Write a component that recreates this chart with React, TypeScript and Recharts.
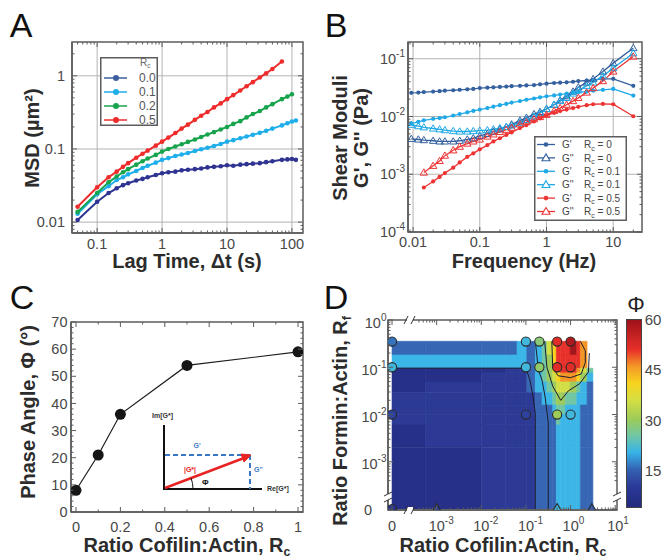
import React from 'react';
import {
  LineChart, Line, XAxis, YAxis, ReferenceLine, ReferenceArea, ScatterChart, Scatter,
} from 'recharts';

const FONT = '"Liberation Sans", Arial, Helvetica, sans-serif';
const INK = '#2c2c2c';
const TICK_INK = '#474747';
const FRAME = '#5c5c5c';
const GRID = '#b3b3b3';

// ---- A: MSD vs lag time
const lagTimes = [0.05, 0.1, 0.15, 0.2, 0.25, 0.3, 0.4, 0.5, 0.6, 0.8, 1, 1.25, 1.6, 2, 2.5, 3.2, 4, 5, 6.3, 8, 10, 12.5, 16, 20, 25, 32, 40, 50, 70, 85, 100, 115];
const msdRc00 = [0.0107, 0.019, 0.025, 0.029, 0.032, 0.034, 0.037, 0.039, 0.041, 0.044, 0.0465, 0.048, 0.049, 0.051, 0.052, 0.053, 0.054, 0.056, 0.057, 0.058, 0.06, 0.059, 0.061, 0.062, 0.063, 0.064, 0.066, 0.068, 0.071, 0.072, 0.073, 0.071];
const msdRc01 = [0.013, 0.024, 0.031, 0.0376, 0.041, 0.045, 0.05, 0.055, 0.059, 0.065, 0.071, 0.075, 0.08, 0.084, 0.088, 0.094, 0.099, 0.104, 0.11, 0.117, 0.126, 0.132, 0.14, 0.148, 0.156, 0.166, 0.177, 0.19, 0.21, 0.225, 0.237, 0.245];
const msdRc02 = [0.0138, 0.025, 0.035, 0.042, 0.048, 0.053, 0.061, 0.068, 0.074, 0.083, 0.092, 0.1, 0.108, 0.116, 0.125, 0.135, 0.146, 0.158, 0.17, 0.185, 0.2, 0.22, 0.24, 0.27, 0.3, 0.33, 0.37, 0.41, 0.48, 0.52, 0.56, null];
const msdRc05 = [0.0162, 0.03, 0.041, 0.049, 0.057, 0.064, 0.076, 0.086, 0.095, 0.111, 0.126, 0.143, 0.165, 0.19, 0.215, 0.25, 0.285, 0.32, 0.37, 0.42, 0.48, 0.545, 0.63, 0.72, 0.82, 0.95, 1.08, 1.24, 1.57, null, null, null];
const msdKeys = ['rc00', 'rc01', 'rc02', 'rc05'];
const msdLabels = ['0.0', '0.1', '0.2', '0.5'];
const msdColors = ['#2f3391', '#1eaeea', '#17a44c', '#ef2c2c'];
const msdLegendColors = ['#3b5f9d', '#1eaeea', '#17a44c', '#ef2c2c'];
const msdXMajors = [0.1, 1, 10, 100];
const msdYMajors = [0.01, 0.1, 1];

// ---- B: shear moduli vs frequency
const freqHz = [0.0094, 0.012, 0.0145, 0.02, 0.025, 0.03, 0.04, 0.05, 0.065, 0.08, 0.1, 0.13, 0.16, 0.2, 0.25, 0.3, 0.4, 0.5, 0.65, 0.8, 1, 1.3, 1.6, 2, 2.5, 3, 4, 5, 7, 10, 20];
const gpRc0 = [0.0257, 0.026, 0.0265, 0.027, 0.0275, 0.028, 0.0285, 0.029, 0.0295, 0.03, 0.031, 0.0315, 0.032, 0.0325, 0.033, 0.0335, 0.034, 0.0345, 0.035, 0.036, 0.037, 0.038, 0.0385, 0.039, 0.04, 0.041, 0.042, 0.043, 0.045, 0.045, 0.034];
const gppRc0 = [0.0041, 0.004, 0.0039, 0.0038, 0.0037, 0.0037, 0.0037, 0.0038, 0.004, 0.0042, 0.0046, 0.005, 0.0055, 0.006, 0.0066, 0.0073, 0.0085, 0.0095, 0.011, 0.012, 0.0135, 0.016, 0.019, 0.0224, 0.027, 0.032, 0.039, 0.0446, 0.06, 0.084, 0.153];
const gpRc01 = [0.0075, 0.0081, 0.0086, 0.0091, 0.0094, 0.0097, 0.0104, 0.011, 0.0118, 0.0125, 0.0132, 0.014, 0.0148, 0.0157, 0.0165, 0.0174, 0.0185, 0.0195, 0.0205, 0.0215, 0.0224, 0.0232, 0.024, 0.0248, 0.0256, 0.0263, 0.027, 0.028, 0.029, 0.03, 0.023];
const gppRc01 = [0.0072, 0.0068, 0.0065, 0.0062, 0.006, 0.0058, 0.0056, 0.0055, 0.0055, 0.0056, 0.0057, 0.0058, 0.006, 0.0063, 0.0066, 0.007, 0.0078, 0.0087, 0.01, 0.0115, 0.0135, 0.016, 0.0185, 0.021, 0.025, 0.0284, 0.034, 0.039, 0.05, 0.069, 0.125];
const gpRc05 = [null, null, 0.00059, 0.00075, 0.0009, 0.00105, 0.0013, 0.0016, 0.002, 0.0023, 0.0027, 0.0032, 0.0037, 0.0042, 0.0048, 0.0053, 0.0063, 0.0071, 0.0082, 0.0093, 0.0105, 0.0115, 0.0124, 0.0132, 0.014, 0.0147, 0.0157, 0.0163, 0.0165, 0.0163, 0.0101];
const gppRc05 = [null, null, 0.00107, 0.0014, 0.0017, 0.0021, 0.0026, 0.003, 0.0034, 0.0037, 0.004, 0.0045, 0.0049, 0.0054, 0.0059, 0.0064, 0.0073, 0.008, 0.009, 0.0098, 0.0107, 0.0125, 0.014, 0.016, 0.0185, 0.021, 0.026, 0.031, 0.041, 0.06, 0.109];
const modKeys = ['gp0', 'gpp0', 'gp1', 'gpp1', 'gp5', 'gpp5'];
const modColors = ['#34609e', '#34609e', '#1fa9e6', '#1fa9e6', '#ee3333', '#ee3333'];
const modNames = ["G'", "G''", "G'", "G''", "G'", "G''"];
const modRc = ['0', '0', '0.1', '0.1', '0.5', '0.5'];
const freqMajors = [0.01, 0.1, 1, 10];
const modYMajors = [0.0001, 0.001, 0.01, 0.1];

// ---- C: phase angle vs cofilin ratio
const cofilinRatio = [0, 0.1, 0.2, 0.5, 1];
const phaseAngle = [8, 21, 36, 54, 59];
const phaseXMajors = [0, 0.2, 0.4, 0.6, 0.8, 1];
const phaseYMajors = [0, 10, 20, 30, 40, 50, 60, 70];

// ---- D: phase map over cofilin / formin ratios (broken log axes, 0 at left/bottom)
const circleRc = [0, 0.1, 0.2, 0.5, 1, 0, 0.1, 0.2, 0.5, 1, 0, 0.1, 0.5, 1, 0];
const circleRf = [0.35, 0.35, 0.35, 0.35, 0.35, 0.1, 0.1, 0.1, 0.1, 0.1, 0.01, 0.01, 0.01, 0.01, 0];
const circlePhi = [16, 21, 28, 52, 58, 21, 21, 29, 52, 52, 11, 11, 30, 21, 7];
const triangleRc = [0.001, 0.5, 3];
const triangleRf = [0, 0, 0];
const trianglePhi = [10, 21, 14];
// contour bands, in broken-log axis units; rows listed top to bottom
const mapColEdges = [0, 0.75, 2.0, 2.55, 2.8, 3.02, 3.21, 3.36, 3.47, 3.6, 3.68, 3.77, 3.88, 3.99, 4.14, 4.22, 4.37, 4.5];
const mapRowEdges = [0, 1.31, 1.78, 2.0, 2.2, 2.46, 2.69, 2.88, 2.98, 3.26, 3.55];
const mapBands = [
  [15, 15, 15, 15, 20, 15, 20, 25, 35, 40, 50, 50, 50, 55, 50, 45, null],
  [20, 20, 20, 20, 20, 15, 20, 25, 30, 40, 50, 50, 50, 50, 50, 45, null],
  [5, 5, 5, 10, 10, 15, 20, 25, 30, 40, 45, 50, 50, 50, 45, 35, 25],
  [5, 5, 10, 10, 10, 15, 20, 25, 30, 35, 40, 45, 45, 45, 40, 30, 20],
  [5, 10, 10, 10, 10, 15, 20, 20, 25, 30, 35, 35, 35, 30, 25, 20, 15],
  [10, 10, 10, 10, 10, 10, 15, 20, 20, 25, 30, 30, 25, 25, 20, 20, 15],
  [10, 10, 10, 10, 10, 10, 15, 15, 15, 20, 25, 25, 20, 20, 20, 15, 15],
  [10, 10, 10, 10, 10, 10, 15, 15, 15, 15, 25, 20, 20, 20, 20, 15, 15],
  [5, 10, 10, 10, 10, 10, 15, 15, 15, 15, 20, 20, 20, 20, 20, 15, 15],
  [5, 5, 10, 10, 10, 10, 15, 15, 15, 15, 20, 20, 20, 20, 20, 15, 15],
];
const bandFloors = [5, 10, 15, 20, 25, 30, 35, 40, 45, 50, 55];
const bandColors = ['#273088', '#2c3a96', '#3766b4', '#3bb6e7', '#71c6a4', '#9dcb5c', '#d2de46', '#f8d31f', '#f39626', '#e8312b', '#a3161c'];
const contourOuterRc = [0, 3.0, 3.09, 3.16, 3.21, 3.21];
const contourOuterRf = [2.98, 2.98, 2.73, 2.37, 2.03, 0];
const contourInnerRc = [3.21, 3.28, 3.36, 3.43, 3.5, 3.5];
const contourInnerRf = [3.55, 2.94, 2.73, 2.37, 1.82, 0];
const contourGreenRc = [3.42, 3.47, 3.6, 3.78, 3.95, 4.2, 4.4, 4.42];
const contourGreenRf = [3.55, 3.0, 2.6, 2.3, 2.5, 2.65, 2.9, 3.3];
const contourHotRc = [3.58, 3.6, 3.72, 4.0, 4.24, 4.33, 4.33, 4.22];
const contourHotRf = [3.55, 3.0, 2.82, 2.78, 2.86, 3.1, 3.35, 3.55];
const phiStops: [number, string][] = [
  [3.6, '#232a7e'], [10, '#2a3a98'], [15, '#3463b3'], [20, '#36b3e8'], [25, '#6fc6a6'], [30, '#9ccb5a'],
  [36, '#d6df42'], [41, '#f8d31e'], [46, '#f49828'], [51, '#e8302a'], [60, '#9e1219'],
];
const phiBarTicks = [15, 30, 45, 60];

// ---------- helpers
const near = (a: number, b: number) => Math.abs(a - b) <= 1e-6 * Math.max(Math.abs(a), Math.abs(b)) + 1e-12;

function logTicks(lo: number, hi: number, from: number, to: number) {
  const out: number[] = [];
  for (let e = lo; e <= hi; e++) {
    for (let m = 1; m <= 9; m++) {
      const v = m * Math.pow(10, e);
      if (v >= from * 0.99999 && v <= to * 1.00001) out.push(v);
    }
  }
  return out;
}

function stepTicks(from: number, to: number, step: number) {
  const out: number[] = [];
  for (let v = from; v <= to + 1e-9; v += step) out.push(Math.round(v * 1000) / 1000);
  return out;
}

function brokenLogTicks(decades: number) {
  const out: number[] = [];
  for (let k = 0; k <= decades; k++) out.push(k);
  for (let k = 0; k < decades; k++) {
    for (let m = 2; m <= 9; m++) {
      if (k === 0 && m < 4) continue;
      out.push(k + Math.log10(m));
    }
  }
  return out;
}

const brokenPos = (r: number) => (r === 0 ? 0 : 4 + Math.log10(r));

function hexToRgb(h: string) {
  const n = parseInt(h.slice(1), 16);
  return [(n >> 16) & 255, (n >> 8) & 255, n & 255];
}
function phiColor(v: number) {
  if (v <= phiStops[0][0]) return phiStops[0][1];
  for (let i = 1; i < phiStops.length; i++) {
    const [v1, c1] = phiStops[i];
    const [v0, c0] = phiStops[i - 1];
    if (v <= v1) {
      const t = (v - v0) / (v1 - v0);
      const a = hexToRgb(c0);
      const b = hexToRgb(c1);
      return `rgb(${a.map((x, j) => Math.round(x + (b[j] - x) * t)).join(',')})`;
    }
  }
  return phiStops[phiStops.length - 1][1];
}
const bandColor = (b: number) => bandColors[bandFloors.indexOf(b)];

type LabelFn = (v: number, x: number, y: number) => React.ReactNode;

// inward ticks on the axis edge, mirrored on the opposite edge of the frame (span px away)
function makeTick(side: 'bottom' | 'left', majors: number[], span: number, label?: LabelFn) {
  return (props: any) => {
    const { x, y, payload } = props;
    const m = majors.find((mm) => near(mm, Number(payload?.value)));
    const major = m !== undefined;
    const len = major ? 5 : 2.5;
    return (
      <g>
        {side === 'bottom' ? (
          <>
            <line x1={x} y1={y} x2={x} y2={y - len} stroke={FRAME} strokeWidth={1} />
            <line x1={x} y1={y - span} x2={x} y2={y - span + len} stroke={FRAME} strokeWidth={1} />
          </>
        ) : (
          <>
            <line x1={x} y1={y} x2={x + len} y2={y} stroke={FRAME} strokeWidth={1} />
            <line x1={x + span} y1={y} x2={x + span - len} y2={y} stroke={FRAME} strokeWidth={1} />
          </>
        )}
        {major && label ? label(m as number, x, y) : null}
      </g>
    );
  };
}

const tickText = (x: number, y: number, anchor: 'start' | 'middle' | 'end', content: React.ReactNode) => (
  <text x={x} y={y} textAnchor={anchor} fontSize={14.5} fill={TICK_INK} fontFamily={FONT}>{content}</text>
);
const sup = (base: string, exp: string) => [
  <tspan key="b">{base}</tspan>,
  <tspan key="e" dy={-7} fontSize={10}>{exp}</tspan>,
];
const plainBottom = (gap: number): LabelFn => (v, x, y) => tickText(x, y + gap, 'middle', String(v));
const plainLeft = (gap: number): LabelFn => (v, x, y) => tickText(x - gap, y + 5.2, 'end', String(v));

const frameAxis = {
  tickLine: false,
  tickSize: 0,
  tickMargin: 0,
  interval: 0 as const,
  axisLine: { stroke: FRAME, strokeWidth: 1.5 },
  allowDataOverflow: true,
  type: 'number' as const,
};

const frameBox = (xd: [number, number], yd: [number, number]) => (
  <ReferenceArea x1={xd[0]} x2={xd[1]} y1={yd[0]} y2={yd[1]} fill="none" fillOpacity={0}
    stroke={FRAME} strokeWidth={1.5} ifOverflow="visible" />
);

const triangleDot = (color: string, s = 3.7) => (p: any) => {
  const key = `t${p.index}`;
  if (!Number.isFinite(p.cx) || !Number.isFinite(p.cy)) return <g key={key} />;
  const { cx, cy } = p;
  return (
    <path key={key} d={`M${cx},${cy - s} L${cx + s},${cy + s * 0.7} L${cx - s},${cy + s * 0.7} Z`}
      fill="none" stroke={color} strokeWidth={1} />
  );
};

// ---------- panels
const msdRows = lagTimes.map((t, i) => ({ t, rc00: msdRc00[i], rc01: msdRc01[i], rc02: msdRc02[i], rc05: msdRc05[i] }));

function PanelA() {
  const xDomain: [number, number] = [0.041, 148];
  const yDomain: [number, number] = [0.0071, 2.9];
  const xt = logTicks(-2, 2, xDomain[0], xDomain[1]);
  const yt = logTicks(-3, 0, yDomain[0], yDomain[1]);
  return (
    <LineChart width={330} height={280} data={msdRows} margin={{ top: 42, right: 27, bottom: 0, left: 0 }}>
      {msdXMajors.map((v) => <ReferenceLine key={`gx${v}`} x={v} stroke={GRID} strokeWidth={1} />)}
      {msdYMajors.map((v) => <ReferenceLine key={`gy${v}`} y={v} stroke={GRID} strokeWidth={1} />)}
      <XAxis dataKey="t" scale="log" domain={xDomain} ticks={xt} height={47} {...frameAxis}
        tick={makeTick('bottom', msdXMajors, 191, plainBottom(15.5))} />
      <YAxis scale="log" domain={yDomain} ticks={yt} width={72} {...frameAxis}
        tick={makeTick('left', msdYMajors, 231, plainLeft(7))} />
      {msdKeys.map((k, i) => (
        <Line key={k} dataKey={k} stroke={msdColors[i]} strokeWidth={2} connectNulls={false}
          dot={{ r: 2.3, fill: msdColors[i], stroke: msdColors[i], strokeWidth: 0 }} isAnimationActive={false} />
      ))}
      {frameBox(xDomain, yDomain)}
    </LineChart>
  );
}

const modRows = freqHz.map((f, i) => ({
  f, gp0: gpRc0[i], gpp0: gppRc0[i], gp1: gpRc01[i], gpp1: gppRc01[i], gp5: gpRc05[i], gpp5: gppRc05[i],
}));

function PanelB() {
  const xDomain: [number, number] = [0.0084, 27];
  const yDomain: [number, number] = [0.0001, 0.195];
  const xt = logTicks(-3, 1, xDomain[0], xDomain[1]);
  const yt = logTicks(-4, -1, yDomain[0], yDomain[1]);
  const yLabel: LabelFn = (v, x, y) => tickText(x - 3, y + 5.2, 'end', sup('10', String(Math.round(Math.log10(v)))));
  return (
    <LineChart width={334} height={280} data={modRows} margin={{ top: 42, right: 22, bottom: 0, left: 0 }}>
      {freqMajors.map((v) => <ReferenceLine key={`gx${v}`} x={v} stroke={GRID} strokeWidth={1} />)}
      {modYMajors.map((v) => <ReferenceLine key={`gy${v}`} y={v} stroke={GRID} strokeWidth={1} />)}
      <XAxis dataKey="f" scale="log" domain={xDomain} ticks={xt} height={48} {...frameAxis}
        tick={makeTick('bottom', freqMajors, 190, plainBottom(15))} />
      <YAxis scale="log" domain={yDomain} ticks={yt} width={78} {...frameAxis}
        tick={makeTick('left', modYMajors, 234, yLabel)} />
      {modKeys.map((k, i) => (
        <Line key={k} dataKey={k} stroke={modColors[i]} strokeWidth={1.3} connectNulls={false}
          dot={i % 2 === 0 ? { r: 2.1, fill: modColors[i], stroke: modColors[i], strokeWidth: 0 } : triangleDot(modColors[i])}
          isAnimationActive={false} />
      ))}
      {frameBox(xDomain, yDomain)}
    </LineChart>
  );
}

const phaseRows = cofilinRatio.map((rc, i) => ({ rc, phi: phaseAngle[i] }));

function PanelC() {
  const xDomain: [number, number] = [-0.0225, 1.0225];
  const yDomain: [number, number] = [0, 70];
  const xt = stepTicks(0, 1, 0.1);
  const yt = stepTicks(0, 70, 2);
  const xLabel: LabelFn = (v, x, y) => tickText(x, y + 19.5, 'middle', v === 0 || v === 1 ? String(v) : v.toFixed(1));
  return (
    <LineChart width={330} height={279} data={phaseRows} margin={{ top: 42, right: 27, bottom: 0, left: 0 }}>
      <XAxis dataKey="rc" domain={xDomain} ticks={xt} height={47} {...frameAxis}
        tick={makeTick('bottom', phaseXMajors, 190, xLabel)} />
      <YAxis domain={yDomain} ticks={yt} width={71} {...frameAxis}
        tick={makeTick('left', phaseYMajors, 232, plainLeft(3.5))} />
      <Line dataKey="phi" stroke="#1c1c1c" strokeWidth={1.2}
        dot={{ r: 5.5, fill: '#161616', stroke: '#161616', strokeWidth: 0 }} isAnimationActive={false} />
      {frameBox(xDomain, yDomain)}
    </LineChart>
  );
}

const mapCells = mapBands.flatMap((row, ri) => {
  const r = mapRowEdges.length - 2 - ri;
  return row.map((band, c) => (band == null ? null : {
    x1: mapColEdges[c], x2: mapColEdges[c + 1], y1: mapRowEdges[r], y2: mapRowEdges[r + 1], band,
  }));
}).filter(Boolean) as { x1: number; x2: number; y1: number; y2: number; band: number }[];

const circleRows = circleRc.map((rc, i) => ({ x: brokenPos(rc), y: brokenPos(circleRf[i]), phi: circlePhi[i] }));
const triangleRows = triangleRc.map((rc, i) => ({ x: brokenPos(rc), y: brokenPos(triangleRf[i]), phi: trianglePhi[i] }));
const contourRows = [
  contourOuterRc.map((x, i) => ({ x, y: contourOuterRf[i] })),
  contourInnerRc.map((x, i) => ({ x, y: contourInnerRf[i] })),
  contourGreenRc.map((x, i) => ({ x, y: contourGreenRf[i] })),
  contourHotRc.map((x, i) => ({ x, y: contourHotRf[i] })),
];

function PanelD() {
  const xDomain: [number, number] = [-0.09, 5.04];
  const yDomain: [number, number] = [-0.02, 4];
  const xt = brokenLogTicks(5);
  const yt = brokenLogTicks(4);
  const xMajors = [0, 1, 2, 3, 4, 5];
  const yMajors = [0, 1, 2, 3, 4];
  const xLabel: LabelFn = (v, x, y) => (v === 0
    ? tickText(x, y + 21, 'middle', '0')
    : tickText(x - 8, y + 21, 'start', sup('10', String(v - 4))));
  const yLabel: LabelFn = (v, x, y) => (v === 0
    ? tickText(x - 16, y + 5.5, 'end', '0')
    : tickText(x - 1.5, y + 7.5, 'end', sup('10', String(v - 4))));
  return (
    <ScatterChart width={334} height={279} margin={{ top: 40, right: 47, bottom: 0, left: 0 }}>
      {mapCells.map((c, i) => (
        <ReferenceArea key={`cell${i}`} x1={c.x1} x2={c.x2} y1={c.y1} y2={c.y2} fill={bandColor(c.band)} fillOpacity={1}
          stroke={bandColor(c.band)} strokeWidth={0.6} ifOverflow="visible" />
      ))}
      <XAxis dataKey="x" domain={xDomain} ticks={xt} height={49} {...frameAxis}
        tick={makeTick('bottom', xMajors, 190, xLabel)} />
      <YAxis dataKey="y" domain={yDomain} ticks={yt} width={58} {...frameAxis}
        tick={makeTick('left', yMajors, 229, yLabel)} />
      {contourRows.map((rows, i) => (
        <Scatter key={`ct${i}`} data={rows} line={{ stroke: '#1d1d2e', strokeWidth: 1 }} isAnimationActive={false}
          shape={() => <g />} />
      ))}
      <Scatter data={circleRows} isAnimationActive={false}
        shape={(p: any) => <circle cx={p.cx} cy={p.cy} r={4.6} fill={phiColor(p.payload.phi)} stroke="#2a2a2a" strokeWidth={1.1} />} />
      <Scatter data={triangleRows} isAnimationActive={false}
        shape={(p: any) => (
          <path d={`M${p.cx},${p.cy - 5.5} L${p.cx + 4.6},${p.cy + 2.5} L${p.cx - 4.6},${p.cy + 2.5} Z`}
            fill={phiColor(p.payload.phi)} stroke="#2a2a2a" strokeWidth={1.1} />
        )} />
      {frameBox(xDomain, yDomain)}
    </ScatterChart>
  );
}

// ---------- overlays
function Txt({ x, y, size = 20, bold = true, rotate = 0, color = INK, children }: any) {
  return (
    <div style={{
      position: 'absolute', left: x, top: y, transform: `translate(-50%, -50%) rotate(${rotate}deg)`,
      fontSize: size, fontWeight: bold ? 700 : 400, color, lineHeight: 1, whiteSpace: 'nowrap', fontFamily: FONT,
    }}>
      {children}
    </div>
  );
}
const Sub = ({ children }: any) => <span style={{ fontSize: '0.62em', position: 'relative', top: '0.32em' }}>{children}</span>;

function LegendA() {
  return (
    <svg style={{ position: 'absolute', left: 100, top: 57 }} width={58} height={69}>
      <rect x={0.75} y={0.75} width={56.5} height={67.5} fill="#fff" stroke={FRAME} strokeWidth={1.5} />
      <text x={40} y={9} fontSize={10} fill="#666" fontFamily={FONT}>R<tspan dy={2} fontSize={6.5}>c</tspan></text>
      {msdLabels.map((lab, i) => {
        const y = 21 + i * 14;
        const c = msdLegendColors[i];
        return (
          <g key={lab}>
            <line x1={4} x2={27} y1={y} y2={y} stroke={c} strokeWidth={1.5} />
            <circle cx={16} cy={y} r={3} fill={c} />
            <text x={39} y={y + 4.2} fontSize={12} fill="#555" fontFamily={FONT}>{lab}</text>
          </g>
        );
      })}
    </svg>
  );
}

function LegendB() {
  return (
    <svg style={{ position: 'absolute', left: 534, top: 136 }} width={93} height={85}>
      <rect x={0.75} y={0.75} width={91.5} height={83.5} fill="#fff" stroke={FRAME} strokeWidth={1.5} />
      {modKeys.map((k, i) => {
        const y = 8.5 + i * 13.4;
        const c = modColors[i];
        return (
          <g key={k}>
            <line x1={3} x2={21} y1={y} y2={y} stroke={c} strokeWidth={1.3} />
            {i % 2 === 0
              ? <circle cx={12} cy={y} r={2.3} fill={c} />
              : <path d={`M12,${y - 4} L16,${y + 2.8} L8,${y + 2.8} Z`} fill="#fff" stroke={c} strokeWidth={1.1} />}
            <text x={28} y={y + 3.6} fontSize={10} fill="#444" fontFamily={FONT}>{modNames[i]}</text>
            <text x={50} y={y + 3.6} fontSize={10} fill="#444" fontFamily={FONT}>
              R<tspan dy={2.5} fontSize={7}>c</tspan><tspan dy={-2.5}>{` = ${modRc[i]}`}</tspan>
            </text>
          </g>
        );
      })}
    </svg>
  );
}

function ColorBar() {
  const lo = phiStops[0][0];
  const hi = phiStops[phiStops.length - 1][0];
  const top = 319;
  const h = 189;
  const grad = `linear-gradient(to top, ${phiStops.map(([v, c]) => `${c} ${((v - lo) / (hi - lo)) * 100}%`).join(', ')})`;
  return (
    <>
      <div style={{ position: 'absolute', left: 626, top, width: 16, height: h, background: grad, border: '1px solid #444', boxSizing: 'border-box' }} />
      {phiBarTicks.map((v) => (
        <Txt key={v} x={653} y={top + h - ((v - lo) / (hi - lo)) * h} size={15} bold={false} color={TICK_INK}>{v}</Txt>
      ))}
      <Txt x={636} y={305} size={22} bold={false} color="#222">Φ</Txt>
    </>
  );
}

function Decor() {
  const brk = (x: number, y: number, vertical: boolean, k: string) => (vertical ? (
    <g key={k}>
      <rect x={x - 3} y={y - 3} width={6} height={6} fill="#fff" />
      <line x1={x - 4} y1={y - 1} x2={x + 4} y2={y - 5} stroke="#333" strokeWidth={1} />
      <line x1={x - 4} y1={y + 5} x2={x + 4} y2={y + 1} stroke="#333" strokeWidth={1} />
    </g>
  ) : (
    <g key={k}>
      <rect x={x - 3} y={y - 3} width={6} height={6} fill="#fff" />
      <line x1={x - 6} y1={y + 4} x2={x - 2} y2={y - 4} stroke="#333" strokeWidth={1} />
      <line x1={x + 1} y1={y + 4} x2={x + 5} y2={y - 4} stroke="#333" strokeWidth={1} />
    </g>
  ));
  return (
    <svg style={{ position: 'absolute', left: 0, top: 0, pointerEvents: 'none' }} width={664} height={559}>
      {brk(410, 320, false, 'bt')}
      {brk(410, 510, false, 'bb')}
      {brk(388, 497, true, 'bl')}
      {brk(617, 497, true, 'br')}
      {/* phasor sketch inset in C */}
      <g fontFamily={FONT} fontWeight={700}>
        <text x={152} y={418} fontSize={7} fill="#333">Im[G*]</text>
        <text x={267} y={491} fontSize={7} fill="#333">Re[G*]</text>
        <line x1={164} y1={425} x2={164} y2={490} stroke="#111" strokeWidth={2} />
        <line x1={163} y1={489} x2={262} y2={489} stroke="#111" strokeWidth={2} />
        <line x1={165} y1={455} x2={250} y2={455} stroke="#3b78c4" strokeWidth={2} strokeDasharray="5 3" />
        <line x1={250} y1={455} x2={250} y2={489} stroke="#3b78c4" strokeWidth={2} strokeDasharray="5 3" />
        <line x1={165} y1={488} x2={244} y2={458} stroke="#e82323" strokeWidth={2.5} />
        <path d="M251,455 L241,454 L244,462 Z" fill="#e82323" stroke="#e82323" strokeWidth={1} />
        <path d="M193,489 A29,29 0 0 0 191,478" fill="none" stroke="#111" strokeWidth={1} />
        <text x={197} y={448} fontSize={7} fill="#3b78c4" textAnchor="middle">G'</text>
        <text x={254} y={472} fontSize={7} fill="#3b78c4">G''</text>
        <text x={190} y={472} fontSize={7} fill="#e82323" textAnchor="middle">|G*|</text>
        <text x={202} y={485} fontSize={8} fill="#111">Φ</text>
      </g>
    </svg>
  );
}

export default function App() {
  return (
    <div style={{ position: 'absolute', left: 0, top: 0, width: 664, height: 559, background: '#fff', overflow: 'hidden', fontFamily: FONT }}>
      <div style={{ position: 'absolute', left: 0, top: 0 }}><PanelA /></div>
      <div style={{ position: 'absolute', left: 330, top: 0 }}><PanelB /></div>
      <div style={{ position: 'absolute', left: 0, top: 280 }}><PanelC /></div>
      <div style={{ position: 'absolute', left: 330, top: 280 }}><PanelD /></div>

      <Txt x={21} y={25} size={34} bold={false} color="#111">A</Txt>
      <Txt x={336} y={25} size={34} bold={false} color="#111">B</Txt>
      <Txt x={22} y={297} size={34} bold={false} color="#111">C</Txt>
      <Txt x={336} y={297} size={34} bold={false} color="#111">D</Txt>

      <Txt x={32} y={138} rotate={-90}>MSD (µm²)</Txt>
      <Txt x={187} y={261}>Lag Time, Δt (s)</Txt>
      <Txt x={340} y={138} rotate={-90}>Shear Moduli</Txt>
      <Txt x={361} y={138} rotate={-90}>G', G'' (Pa)</Txt>
      <Txt x={524} y={261}>Frequency (Hz)</Txt>
      <Txt x={28} y={412} rotate={-90}>Phase Angle, Φ (°)</Txt>
      <Txt x={187} y={545}>Ratio Cofilin:Actin, R<Sub>c</Sub></Txt>
      <Txt x={340} y={421} rotate={-90}>Ratio Formin:Actin, R<Sub>f</Sub></Txt>
      <Txt x={503} y={545}>Ratio Cofilin:Actin, R<Sub>c</Sub></Txt>

      <LegendA />
      <LegendB />
      <ColorBar />
      <Decor />
    </div>
  );
}
